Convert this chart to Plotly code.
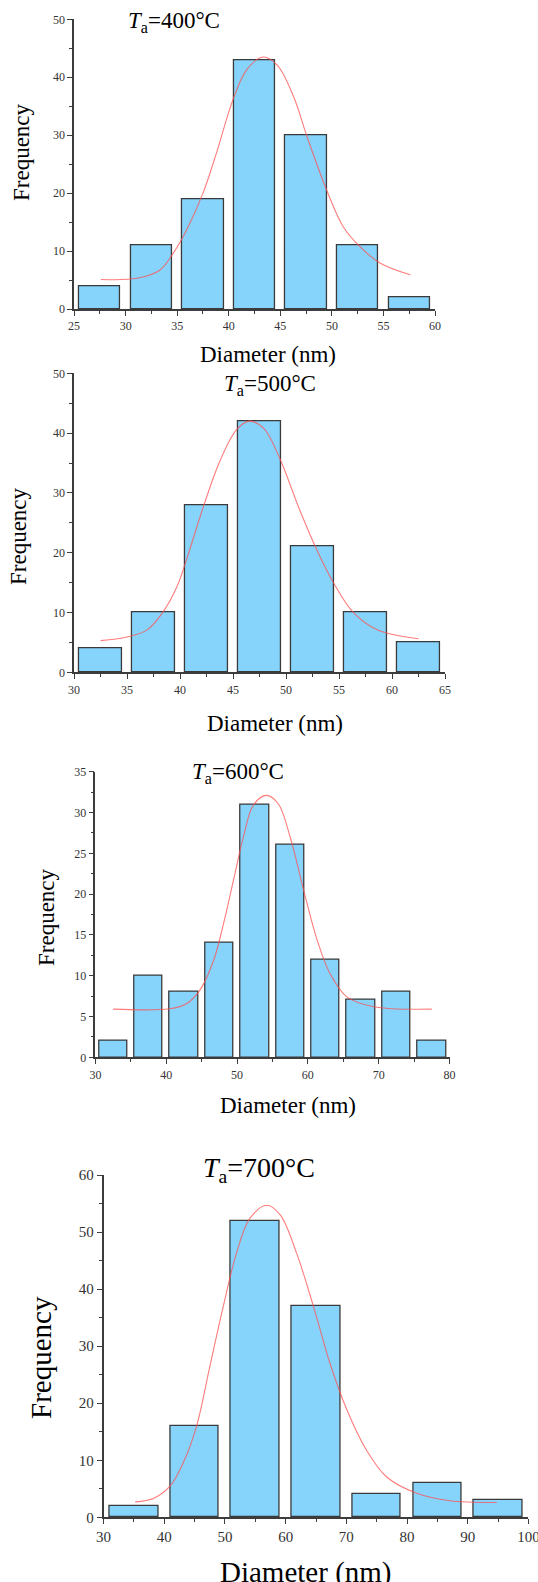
import plotly.graph_objects as go

# ---------------- data ----------------
temps = ["400", "500", "600", "700"]

centers_400 = [27.5, 32.5, 37.5, 42.5, 47.5, 52.5, 57.5]
counts_400 = [4, 11, 19, 43, 30, 11, 2]
fit_x_400 = [27.6, 31.1, 33.3, 34.6, 35.9, 37.5, 38.8, 40.4, 41.7, 43.3, 44.7, 46.3, 47.6, 49.5, 51.1, 52.7, 54.7, 57.6]
fit_y_400 = [5.1, 5.3, 6.7, 9.6, 13.6, 20.0, 26.9, 36.1, 41.2, 43.5, 42.1, 36.6, 29.7, 20.5, 14.2, 10.8, 7.9, 5.9]

centers_500 = [32.5, 37.5, 42.5, 47.5, 52.5, 57.5, 62.5]
counts_500 = [4, 10, 28, 42, 21, 10, 5]
fit_x_500 = [32.5, 35.0, 36.9, 38.4, 39.7, 40.6, 42.2, 43.8, 45.3, 46.5, 47.9, 49.4, 51.3, 52.9, 54.5, 56.3, 58.6, 62.5]
fit_y_500 = [5.3, 5.9, 7.1, 10.1, 14.3, 18.8, 27.7, 35.5, 40.5, 42.0, 40.8, 35.8, 27.1, 20.5, 14.9, 10.1, 7.1, 5.6]

centers_600 = [32.5, 37.5, 42.5, 47.5, 52.5, 57.5, 62.5, 67.5, 72.5, 77.5]
counts_600 = [2, 10, 8, 14, 31, 26, 12, 7, 8, 2]
fit_x_600 = [32.5, 40.5, 42.9, 44.8, 46.7, 48.1, 49.5, 50.9, 52.3, 54.1, 55.8, 57.5, 59.4, 61.3, 63.1, 65.5, 69.3, 77.5]
fit_y_600 = [5.9, 5.95, 6.6, 8.3, 11.9, 16.4, 21.7, 27.0, 30.9, 32.1, 31.1, 27.0, 20.5, 14.4, 10.3, 7.4, 6.2, 5.9]

centers_700 = [35, 45, 55, 65, 75, 85, 95]
counts_700 = [2, 16, 52, 37, 4, 6, 3]
fit_x_700 = [35.2, 38.2, 40.9, 43.1, 45.3, 47.5, 49.7, 51.9, 54.1, 56.9, 59.1, 61.8, 64.6, 67.3, 70.1, 73.3, 76.6, 81.6, 87.1, 94.8]
fit_y_700 = [2.7, 3.3, 5.4, 9.5, 15.9, 26.4, 36.9, 46.3, 52.4, 54.7, 53.0, 46.3, 36.9, 27.0, 18.8, 11.8, 7.1, 4.2, 2.9, 2.6]

x_ranges = [[25, 60], [30, 65], [30, 80], [30, 100]]
y_ranges = [[0, 50], [0, 50], [0, 35], [0, 60]]
x_dticks = [5, 5, 10, 10]
y_dticks = [10, 10, 5, 10]
bar_widths = [4, 4, 4, 8]

# ---------------- layout geometry (pixels) ----------------
W, H = 538, 1582
FONT = "Liberation Serif"
BAR_FILL = "#86D4FC"
BAR_LINE = "#3a3a3a"
FIT_COLOR = "rgba(255,80,80,0.75)"
AXIS_COLOR = "#3c3c3c"
TICK_COLOR = "#3c3c3c"

# plot area boxes: left, right, top, bottom
boxes = [
    (74.1, 435.0, 19.3, 309.0),
    (74.1, 445.0, 373.3, 672.3),
    (95.4, 449.5, 771.7, 1057.3),
    (103.6, 528.4, 1175.0, 1517.3),
]
tick_fs = [12, 12, 12, 15]
label_fs = [23, 23, 23, 29]
title_fs = [23, 23, 23, 28]
title_pos = [(174, 22), (270, 385), (238, 773), (259, 1169)]
ylab_pos = [(22, 152), (19, 536), (46, 917), (41, 1358)]
xlab_pos = [(268, 355), (275, 724), (288, 1105), (306, 1572)]


def px(x):
    return x / W


def py(y):
    return 1 - y / H


series = [
    (centers_400, counts_400, fit_x_400, fit_y_400),
    (centers_500, counts_500, fit_x_500, fit_y_500),
    (centers_600, counts_600, fit_x_600, fit_y_600),
    (centers_700, counts_700, fit_x_700, fit_y_700),
]

fig = go.Figure()
layout_axes = {}
annotations = []

for i, (cx, cy, fx, fy) in enumerate(series):
    n = "" if i == 0 else str(i + 1)
    xa, ya = "x" + n, "y" + n
    fig.add_trace(go.Bar(
        x=cx, y=cy, width=bar_widths[i], xaxis=xa, yaxis=ya,
        marker=dict(color=BAR_FILL, line=dict(color=BAR_LINE, width=1.3)),
        showlegend=False, hoverinfo="skip"))
    fig.add_trace(go.Scatter(
        x=fx, y=fy, mode="lines", xaxis=xa, yaxis=ya,
        line=dict(color=FIT_COLOR, width=1.1, shape="spline", smoothing=1.0),
        showlegend=False, hoverinfo="skip"))

    l, r, t, b = boxes[i]
    common = dict(
        showline=True, linecolor=AXIS_COLOR, linewidth=1.6,
        ticks="outside", ticklen=5, tickwidth=1.2, tickcolor=TICK_COLOR,
        showgrid=False, zeroline=False, mirror=False,
        ticklabeloverflow="allow",
        tickfont=dict(family=FONT, size=tick_fs[i], color="#333333"),
    )
    layout_axes["xaxis" + n] = dict(
        domain=[px(l), px(r)], anchor=ya, range=x_ranges[i],
        dtick=x_dticks[i], tick0=0,
        minor=dict(ticks="outside", ticklen=3, tickcolor=TICK_COLOR,
                   dtick=x_dticks[i] / 2, tick0=0),
        **common)
    layout_axes["yaxis" + n] = dict(
        domain=[py(b), py(t)], anchor=xa, range=y_ranges[i],
        dtick=y_dticks[i], tick0=0,
        minor=dict(ticks="outside", ticklen=3, tickcolor=TICK_COLOR,
                   dtick=y_dticks[i] / 2, tick0=0),
        **common)

    tx, ty = title_pos[i]
    annotations.append(dict(
        text="<i>T</i><sub>a</sub>=" + temps[i] + "°C",
        x=px(tx), y=py(ty), xref="paper", yref="paper",
        xanchor="center", yanchor="middle", showarrow=False,
        font=dict(family=FONT, size=title_fs[i], color="black")))
    lx, ly = ylab_pos[i]
    annotations.append(dict(
        text="Frequency", textangle=-90,
        x=px(lx), y=py(ly), xref="paper", yref="paper",
        xanchor="center", yanchor="middle", showarrow=False,
        font=dict(family=FONT, size=label_fs[i], color="black")))
    dx, dy = xlab_pos[i]
    annotations.append(dict(
        text="Diameter (nm)",
        x=px(dx), y=py(dy), xref="paper", yref="paper",
        xanchor="center", yanchor="middle", showarrow=False,
        font=dict(family=FONT, size=label_fs[i], color="black")))

fig.update_layout(
    width=W, height=H,
    margin=dict(l=0, r=0, t=0, b=0, autoexpand=False),
    paper_bgcolor="white", plot_bgcolor="white",
    bargap=0, annotations=annotations,
    font=dict(family=FONT),
    **layout_axes,
)

fig.write_html("out.html")
